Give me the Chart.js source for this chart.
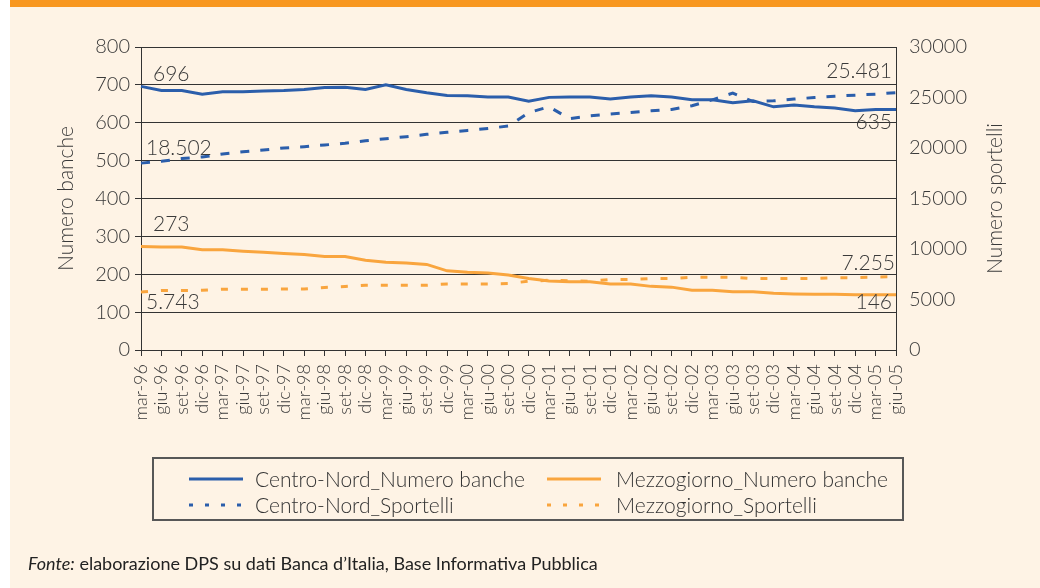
<!DOCTYPE html>
<html>
<head>
<meta charset="utf-8">
<script src="https://cdn.jsdelivr.net/npm/chart.js@4.4.1/dist/chart.umd.min.js"></script>
<style>
html,body{margin:0;padding:0;width:1040px;height:588px;overflow:hidden;background:#ffffff;}
#bg{position:absolute;left:10px;top:0;width:1030px;height:588px;background:#fef3e5;}
#bar{position:absolute;left:10px;top:0;width:1030px;height:7px;background:#f8971f;}
#wrap{position:absolute;left:0;top:0;width:1040px;height:588px;}
#legend{position:absolute;left:152px;top:457px;width:748px;height:60px;border:2px solid #575757;font-family:Lato,"Open Sans",sans-serif;font-weight:300;font-size:21px;color:#333;}
.sw{position:absolute;width:54px;height:10px;}
.lt{position:absolute;white-space:nowrap;line-height:24px;height:24px;}
#footer{position:absolute;left:28px;top:551px;font-family:Lato,"Open Sans",sans-serif;font-weight:400;font-size:18px;color:#222;white-space:nowrap;line-height:24px;}
</style>
</head>
<body>
<div id="bg"></div>
<div id="bar"></div>
<div id="wrap"><canvas id="c" width="1040" height="588"></canvas></div>
<div id="legend">
  <svg class="sw" style="left:35px;top:15px"><line x1="0" y1="5" x2="54" y2="5" stroke="#2b5eab" stroke-width="3"/></svg>
  <div class="lt" style="left:101px;top:8px">Centro-Nord_Numero banche</div>
  <svg class="sw" style="left:35px;top:41px"><line x1="0" y1="5" x2="54" y2="5" stroke="#2b5eab" stroke-width="3" stroke-dasharray="4 12"/></svg>
  <div class="lt" style="left:101px;top:34px">Centro-Nord_Sportelli</div>
  <svg class="sw" style="left:393px;top:15px"><line x1="0" y1="5" x2="54" y2="5" stroke="#f9a53e" stroke-width="3"/></svg>
  <div class="lt" style="left:462px;top:8px">Mezzogiorno_Numero banche</div>
  <svg class="sw" style="left:393px;top:41px"><line x1="0" y1="5" x2="54" y2="5" stroke="#f9a53e" stroke-width="3" stroke-dasharray="4 12"/></svg>
  <div class="lt" style="left:462px;top:34px">Mezzogiorno_Sportelli</div>
</div>
<div id="footer"><i>Fonte:</i> elaborazione DPS su dati Banca d’Italia, Base Informativa Pubblica</div>
<script>
const labels = ['mar-96','giu-96','set-96','dic-96','mar-97','giu-97','set-97','dic-97','mar-98','giu-98','set-98','dic-98','mar-99','giu-99','set-99','dic-99','mar-00','giu-00','set-00','dic-00','mar-01','giu-01','set-01','dic-01','mar-02','giu-02','set-02','dic-02','mar-03','giu-03','set-03','dic-03','mar-04','giu-04','set-04','dic-04','mar-05','giu-05'];
const cnBanche = [696,685,685,675,682,682,684,685,688,693,694,688,700,688,679,672,671,668,668,657,667,668,668,663,668,671,668,661,661,653,658,642,647,642,639,632,635,635];
const mzBanche = [273,272,272,265,265,261,258,255,252,247,247,237,232,230,226,209,205,203,198,189,182,180,180,174,174,168,166,158,158,154,154,150,148,147,147,146,146,146];
const cnSportelli = [18502,18680,18950,19110,19410,19640,19800,20000,20130,20300,20460,20720,20920,21120,21350,21550,21740,21940,22170,23500,24080,22900,23190,23360,23520,23680,23820,24180,24770,25430,24600,24670,24840,25000,25130,25230,25330,25481];
const mzSportelli = [5743,5890,5890,5920,6020,6020,6020,6040,6050,6185,6285,6415,6415,6415,6415,6545,6545,6545,6580,6810,6910,6840,6810,6975,6975,7075,7075,7200,7200,7200,7075,7075,7075,7075,7150,7150,7220,7255];
const leftMin = 0, leftMax = 800, leftStep = 100;
const rightMin = 0, rightMax = 30000, rightStep = 5000;

const BLUE = '#2b5eab', ORANGE = '#f9a53e', INK = '#3a3a3a', AXIS = '#333333';
const FONT = 'Lato, "Open Sans", sans-serif';

function fmt(v){ return String(v).replace(/\B(?=(\d{3})+(?!\d))/g, '.'); }

const annotations = [
  {ds:0, idx:0, dx:12, dy:-12, align:'left'},
  {ds:0, idx:'last', dx:-4, dy:13, align:'right'},
  {ds:1, idx:0, dx:5, dy:-15, align:'left'},
  {ds:1, idx:'last', dx:-4, dy:-21, align:'right'},
  {ds:2, idx:0, dx:12, dy:-22, align:'left'},
  {ds:2, idx:'last', dx:-4, dy:8, align:'right'},
  {ds:3, idx:0, dx:5, dy:10, align:'left'},
  {ds:3, idx:'last', dx:-1, dy:-13, align:'right'}
];

const extras = {
  id:'extras',
  afterDatasetsDraw(chart){
    const ctx = chart.ctx;
    ctx.save();
    ctx.fillStyle = INK;
    ctx.font = '300 21px ' + FONT;
    ctx.textBaseline = 'middle';
    annotations.forEach(a => {
      const ds = chart.data.datasets[a.ds];
      const i = a.idx === 'last' ? ds.data.length - 1 : a.idx;
      const meta = chart.getDatasetMeta(a.ds);
      const pt = meta.data[i];
      ctx.textAlign = a.align;
      ctx.fillText(fmt(ds.data[i]), pt.x + a.dx, pt.y + a.dy);
    });
    const ca = chart.chartArea;
    const cy = (ca.top + ca.bottom) / 2;
    ctx.font = '300 21px ' + FONT;
    ctx.textAlign = 'center';
    [[ca.left - 75, 'Numero banche'], [ca.right + 99, 'Numero sportelli']].forEach(([x, t]) => {
      ctx.save();
      ctx.translate(x, cy);
      ctx.rotate(-Math.PI / 2);
      ctx.fillText(t, 0, 0);
      ctx.restore();
    });
    ctx.restore();
  }
};

new Chart(document.getElementById('c'), {
  type:'line',
  data:{
    labels: labels,
    datasets:[
      {label:'Centro-Nord_Numero banche', data:cnBanche, yAxisID:'y', borderColor:BLUE, borderWidth:3, pointRadius:0, tension:0, fill:false},
      {label:'Centro-Nord_Sportelli', data:cnSportelli, yAxisID:'y2', borderColor:BLUE, borderWidth:3, borderDash:[9,11], pointRadius:0, tension:0, fill:false},
      {label:'Mezzogiorno_Numero banche', data:mzBanche, yAxisID:'y', borderColor:ORANGE, borderWidth:3, pointRadius:0, tension:0, fill:false},
      {label:'Mezzogiorno_Sportelli', data:mzSportelli, yAxisID:'y2', borderColor:ORANGE, borderWidth:3, borderDash:[7,13], pointRadius:0, tension:0, fill:false}
    ]
  },
  options:{
    responsive:false,
    animation:false,
    events:[],
    layout:{padding:{top:47, bottom:138, left:0, right:0}},
    plugins:{legend:{display:false}, tooltip:{enabled:false}, title:{display:false}},
    scales:{
      x:{
        type:'category', offset:false,
        grid:{drawOnChartArea:false, drawTicks:true, tickLength:6, color:AXIS, lineWidth:1},
        border:{display:true, color:AXIS, width:1},
        ticks:{autoSkip:false, maxRotation:90, minRotation:90, padding:8, color:INK, font:{family:FONT, size:18, weight:300}},
        afterFit(s){ s.height = 100; }
      },
      y:{
        position:'left', min:leftMin, max:leftMax,
        ticks:{stepSize:leftStep, padding:5, color:INK, font:{family:FONT, size:20, weight:300}},
        grid:{color:AXIS, lineWidth:1, drawTicks:true, tickLength:6},
        border:{display:true, color:AXIS, width:1},
        afterFit(s){ s.width = 141; }
      },
      y2:{
        position:'right', min:rightMin, max:rightMax,
        ticks:{stepSize:rightStep, padding:13, color:INK, font:{family:FONT, size:20, weight:300}, callback:(v) => String(v)},
        grid:{drawOnChartArea:false, drawTicks:false},
        border:{display:true, color:AXIS, width:1},
        afterFit(s){ s.width = 144; }
      }
    }
  },
  plugins:[extras]
});
</script>
</body>
</html>
